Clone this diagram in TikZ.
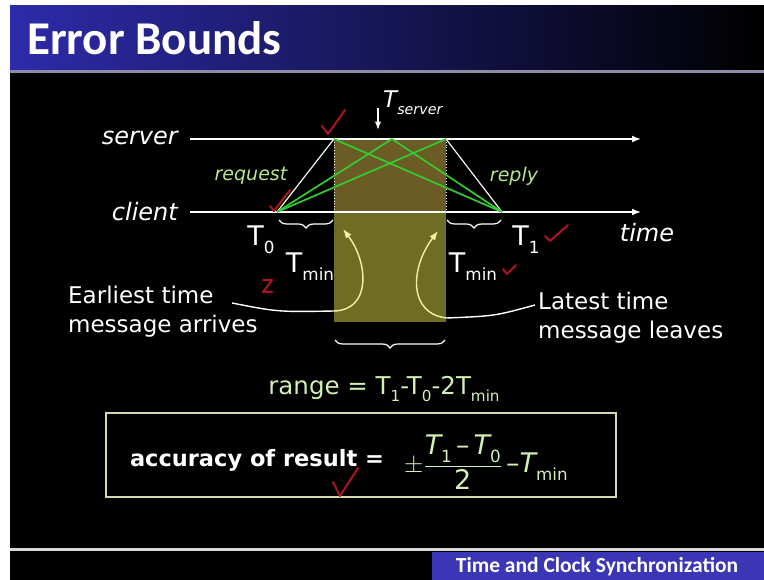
\documentclass[tikz,border=0pt]{standalone}
\usepackage{amsmath}
\usepackage{fontspec}
\setmainfont{DejaVu Sans}
\newfontfamily\slidefont{Carlito}
\usetikzlibrary{arrows.meta,decorations.pathreplacing,backgrounds}
\definecolor{cTitle}{HTML}{2D2BAA}
\definecolor{cRule}{HTML}{8C8CA6}
\definecolor{cFoot}{HTML}{3B36B5}
\definecolor{cWinTop}{HTML}{6B5B24}
\definecolor{cWin}{HTML}{6F6C24}
\definecolor{cLine}{HTML}{33CC33}
\definecolor{cMsg}{HTML}{B8E68C}
\definecolor{cRange}{HTML}{D2F0B4}
\definecolor{cHook}{HTML}{F2F2A0}
\definecolor{cBoxEdge}{HTML}{D8D8B0}
\definecolor{cCheck}{HTML}{B0141E}
\newcommand{\fsz}[1]{\fontsize{#1}{#1}\selectfont}
\newcommand{\dn}[1]{\raisebox{-0.55ex}{\scalebox{0.62}{#1}}}

\begin{document}
\begin{tikzpicture}[
  x=1pt, y=-1pt,
  >=Latex,
  lbl/.style={text=white, font=\fsz{24}\itshape, inner sep=0pt},
  msg/.style={text=cMsg, font=\fsz{19}\itshape, inner sep=0pt},
  tlab/.style={text=white, font=\fsz{27}, inner sep=0pt},
  note/.style={text=white, font=\fontsize{23}{29}\selectfont, align=left, inner sep=0pt, anchor=west},
  timeline/.style={-{Latex[length=9pt,width=7pt]}, white, line width=1.6pt},
  trip/.style={white!80!cMsg, line width=1.2pt},
  cand/.style={cLine, line width=1.7pt},
  hook/.style={->, cHook, line width=1.4pt},
  lead/.style={white, line width=1.4pt},
  brc/.style={white, line width=1.2pt, decorate, decoration={brace, mirror, amplitude=8pt}},
  chk/.style={cCheck, line width=2pt, line cap=round, line join=round},
]
\useasboundingbox (0,0) rectangle (764,580);
\fill[white] (0,0) rectangle (764,580);

% ---- slide frame ----
\fill[black] (10,6) rectangle (764,580);
\shade[left color=cTitle, middle color=cTitle!70!black, right color=black] (10,6) rectangle (764,70);
\fill[cRule] (10,70) rectangle (764,73);
\fill[white!85!black] (10,548) rectangle (764,551);
\fill[cFoot] (432,552) rectangle (764,580);
\node[anchor=west, text=white, font=\slidefont\bfseries\fsz{47}, inner sep=0pt] (title) at (27,38) {Error Bounds};
\node[text=white, font=\slidefont\bfseries\fsz{21.5}, inner sep=0pt] (foot) at (597,567) {Time and Clock Synchronization};

% ---- time axes ----
\coordinate (srvL) at (190,139);
\coordinate (srvR) at (641,139);
\coordinate (cliL) at (190,212);
\coordinate (cliR) at (641,212);
\coordinate (t0) at (277,212);
\coordinate (t1) at (502,212);
\coordinate (sa) at (334,139);
\coordinate (sb) at (392,139);
\coordinate (sc) at (446,139);

% window of possible server times
\fill[cWinTop] (sa) rectangle (446,212);
\fill[cWin] (334,212) rectangle (446,322);
\draw[white, dotted, line width=0.8pt] (sa) -- (334,212);
\draw[white, dotted, line width=0.8pt] (sc) -- (446,212);

\draw[timeline] (srvL) -- (srvR);
\draw[timeline] (cliL) -- (cliR);

\node[lbl, anchor=east] (server) at (178,138) {server};
\node[lbl, anchor=east] (client) at (178,212) {client};
\node[lbl] (time) at (647,233) {time};

% ---- request / reply ----
\draw[trip] (t0) -- (sa);
\draw[trip] (sc) -- (t1);
\foreach \p in {sb,sc} \draw[cand] (t0) -- (\p);
\foreach \p in {sa,sb} \draw[cand] (\p) -- (t1);
\node[msg] (request) at (251,176) {request};
\node[msg] (reply) at (514,176) {reply};

\node[text=white, font=\fsz{23}\itshape, inner sep=0pt, anchor=south west] (tsrv) at (383,115) {T\dn{server}};
\draw[->, white, line width=1.2pt] (378,108) -- (378,130);

% ---- Tmin braces ----
\draw[brc] (279,220) -- (333,220);
\draw[brc] (447,220) -- (501,220);
\node[tlab] (T0) at (261,240) {T\dn{0}};
\node[tlab] (T1) at (526,240) {T\dn{1}};
\node[tlab] (tminL) at (310,267) {T\dn{min}};
\node[tlab] (tminR) at (473,267) {T\dn{min}};

% ---- earliest / latest ----
\node[note] (early) at (68,312) {Earliest time\\message arrives};
\node[note] (late) at (538,318) {Latest time\\message leaves};
\coordinate (eTip) at (343,229);
\coordinate (lTip) at (438,231);
\coordinate (eBend) at (334,311);
\coordinate (lBend) at (447,318);
\draw[lead] (232,303) .. controls (278,312) .. (eBend);
\draw[hook] (eBend) .. controls (372,310) and (368,262) .. (eTip);
\draw[lead] (535,305) .. controls (495,316) .. (lBend);
\draw[hook] (lBend) .. controls (408,314) and (410,268) .. (lTip);

% ---- range ----
\draw[brc] (335,340) -- (445,340);
\node[text=cRange, font=\fsz{24.5}, inner sep=0pt] (range) at (384,389) {range = T\dn{1}-T\dn{0}-2T\dn{min}};

% ---- accuracy box ----
\draw[cBoxEdge, line width=1.8pt] (106,413) rectangle (616,497);
\node[text=white, font=\bfseries\fsz{22.5}, inner sep=0pt] (acc) at (257,460) {accuracy of result =};
\node[text=cRange, font=\fsz{27}, inner sep=0pt, anchor=west] (frm) at (404,462)
  {$\pm\dfrac{\textit{T}\dn{1}\,\text{–}\,\textit{T}\dn{0}}{\text{2}}\,\text{–}\textit{T}\dn{min}$};

% ---- red check marks ----
\draw[chk] (322,126) -- (328,134) -- (345,110);
\draw[chk] (270,206) -- (274,211) -- (290,190);
\draw[chk] (263,280) -- (272,280) -- (263,292) -- (272,292);
\draw[chk] (545,236) -- (550,241) -- (568,225);
\draw[chk] (503,269) -- (507,274) -- (516,265);
\draw[chk] (333,482) -- (340,496) -- (358,468);
\end{tikzpicture}
\end{document}
